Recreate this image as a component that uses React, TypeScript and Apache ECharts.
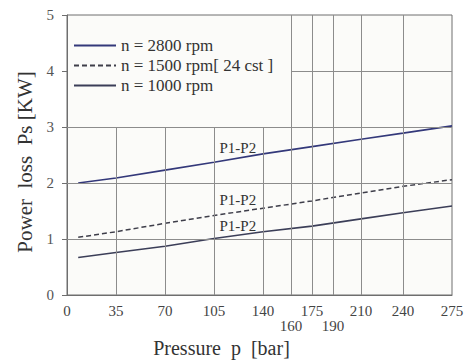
import React, { useEffect, useRef } from "react";
import * as echarts from "echarts";

const pressure = [8, 35, 70, 105, 140, 175, 210, 240, 275];
const loss2800 = [2.0, 2.09, 2.23, 2.37, 2.52, 2.65, 2.78, 2.89, 3.02];
const loss1500 = [1.03, 1.13, 1.28, 1.42, 1.55, 1.68, 1.82, 1.94, 2.06];
const loss1000 = [0.67, 0.76, 0.87, 1.01, 1.13, 1.23, 1.36, 1.47, 1.59];

const seriesNames = ["n = 2800 rpm", "n = 1500 rpm[ 24 cst ]", "n = 1000 rpm"];
const xTickValues = [0, 35, 70, 105, 140, 160, 175, 190, 210, 240, 275];
const xLowTicks = [160, 190];
const xGridShort = [35, 70, 105, 140];
const xGridFull = [160, 175, 190, 210, 240];
const yGridFull = [1, 2, 3];
const yGridShort = [4];
const legendBoxX = 160;
const legendBoxY = 3;
const annotationText = "P1-P2";
const annotationPos: [number, number][] = [
  [122, 2.63],
  [122, 1.69],
  [122, 1.23],
];

const FONT = "Liberation Serif";

function pairs(xs: number[], ys: number[]) {
  return xs.map((x, i) => [x, ys[i]]);
}

export default function App() {
  const ref = useRef<HTMLDivElement>(null);
  useEffect(() => {
    document.body.style.margin = "0";
    const chart = echarts.init(ref.current!, undefined, { renderer: "svg" });
    const gridLineStyle = { color: "#8c8c8c", width: 1, type: "solid" as const };
    const markData: any[] = [];
    xGridShort.forEach((x) => markData.push([{ coord: [x, 0] }, { coord: [x, legendBoxY] }]));
    xGridFull.forEach((x) => markData.push([{ coord: [x, 0] }, { coord: [x, 5] }]));
    yGridFull.forEach((y) => markData.push([{ coord: [0, y] }, { coord: [275, y] }]));
    yGridShort.forEach((y) => markData.push([{ coord: [legendBoxX, y] }, { coord: [275, y] }]));

    const colors = ["#33387a", "#3e3e4a", "#3b3e58"];
    chart.setOption({
      animation: false,
      backgroundColor: "#ffffff",
      grid: {
        left: 67,
        right: 14,
        top: 15,
        bottom: 65,
        containLabel: false,
        outerBoundsMode: "none",
        show: true,
        borderColor: "#6e6e6e",
        borderWidth: 1,
        backgroundColor: "#fbfbf9",
      },
      legend: {
        data: seriesNames,
        orient: "vertical",
        left: 73,
        top: 37,
        padding: 0,
        itemWidth: 42,
        itemHeight: 14,
        itemGap: 3,
        itemStyle: { opacity: 0 },
        textStyle: { fontFamily: FONT, fontSize: 17, color: "#333" },
      },
      xAxis: {
        type: "value",
        min: 0,
        max: 275,
        name: "Pressure  p  [bar]",
        nameLocation: "middle",
        nameGap: 41,
        nameTextStyle: { fontFamily: FONT, fontSize: 20, color: "#333", padding: [0, 76, 0, 0] },
        axisLine: { show: true, lineStyle: { color: "#6e6e6e", width: 1 } },
        axisTick: { show: false },
        splitLine: { show: false },
        axisLabel: {
          customValues: xTickValues,
          margin: 8,
          fontFamily: FONT,
          fontSize: 15,
          lineHeight: 15,
          color: "#444",
          hideOverlap: false,
          formatter: (v: number) => (xLowTicks.includes(v) ? "\n" + v : String(v)),
        },
      },
      yAxis: {
        type: "value",
        min: 0,
        max: 5,
        interval: 1,
        name: "Power  loss  Ps [KW]",
        nameLocation: "middle",
        nameGap: 30,
        nameTextStyle: { fontFamily: FONT, fontSize: 21, color: "#333", padding: [0, 14, 0, 0] },
        axisLine: { show: true, lineStyle: { color: "#6e6e6e", width: 1 } },
        axisTick: { show: true, length: 5, lineStyle: { color: "#6e6e6e" } },
        splitLine: { show: false },
        axisLabel: { margin: 13, fontFamily: FONT, fontSize: 15, color: "#555" },
      },
      series: [
        {
          type: "line",
          name: "grid",
          data: [],
          silent: true,
          z: 1,
          markLine: {
            silent: true,
            symbol: "none",
            label: { show: false },
            lineStyle: gridLineStyle,
            data: markData,
            animation: false,
          },
        },
        {
          type: "line",
          name: seriesNames[0],
          data: pairs(pressure, loss2800),
          symbol: "none",
          color: colors[0],
          lineStyle: { color: colors[0], width: 1.6 },
          z: 3,
          markPoint: {
            symbol: "circle",
            symbolSize: 1,
            itemStyle: { color: "rgba(0,0,0,0)" },
            label: { show: true, position: "inside", formatter: annotationText, fontFamily: FONT, fontSize: 15, color: "#333" },
            data: annotationPos.map((c) => ({ coord: c })),
            animation: false,
          },
        },
        {
          type: "line",
          name: seriesNames[1],
          data: pairs(pressure, loss1500),
          symbol: "none",
          color: colors[1],
          lineStyle: { color: colors[1], width: 1.5, type: [5, 3] },
          z: 3,
        },
        {
          type: "line",
          name: seriesNames[2],
          data: pairs(pressure, loss1000),
          symbol: "none",
          color: colors[2],
          lineStyle: { color: colors[2], width: 1.6 },
          z: 3,
        },
      ],
    });
    return () => chart.dispose();
  }, []);
  return <div ref={ref} style={{ width: 466, height: 360 }} />;
}
